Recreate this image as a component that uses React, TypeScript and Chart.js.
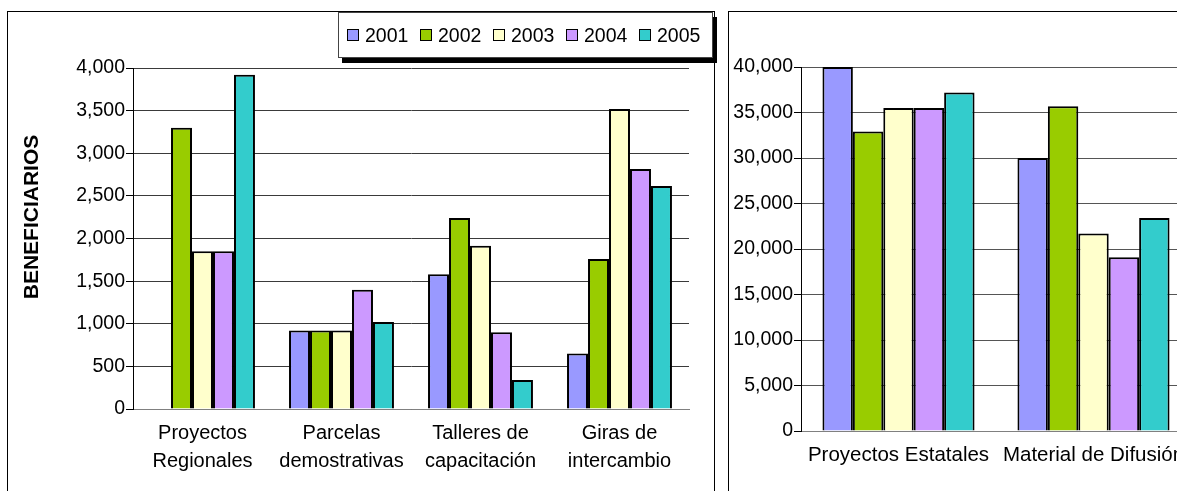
import React, { useEffect, useRef } from 'react';
import { Chart, registerables } from 'chart.js';

Chart.register(...registerables);

const years = ['2001', '2002', '2003', '2004', '2005'];
const colors = ['#9999FF', '#99CC00', '#FFFFCC', '#CC99FF', '#33CCCC'];

const leftCategories = [
  ['Proyectos', 'Regionales'],
  ['Parcelas', 'demostrativas'],
  ['Talleres de', 'capacitación'],
  ['Giras de', 'intercambio'],
];
const left2001 = [0, 920, 1580, 650];
const left2002 = [3300, 920, 2240, 1760];
const left2003 = [1850, 920, 1915, 3520];
const left2004 = [1850, 1400, 900, 2815];
const left2005 = [3920, 1020, 340, 2615];
const leftSeries = [left2001, left2002, left2003, left2004, left2005];
const leftMax = 4000;
const leftStep = 500;

const rightCategories = ['Proyectos Estatales', 'Material de Difusión'];
const right2001 = [40000, 30000];
const right2002 = [32900, 35700];
const right2003 = [35500, 21700];
const right2004 = [35500, 19100];
const right2005 = [37200, 23400];
const rightSeries = [right2001, right2002, right2003, right2004, right2005];
const rightMax = 40000;
const rightStep = 5000;

const yTitle = 'BENEFICIARIOS';

const FONT = '"Liberation Sans", Arial, sans-serif';

const yTitlePlugin = {
  id: 'yTitleLeft',
  afterDraw(chart: any) {
    const ctx = chart.ctx;
    ctx.save();
    ctx.translate(32, 217);
    ctx.rotate(-Math.PI / 2);
    ctx.font = 'bold 21px ' + FONT;
    ctx.fillStyle = '#000';
    ctx.textAlign = 'center';
    ctx.textBaseline = 'middle';
    ctx.fillText(yTitle, 0, 0);
    ctx.restore();
  },
};

function makeConfig(
  labels: any[],
  series: number[][],
  max: number,
  step: number,
  opts: { pad: any; yWidth: number; xHeight: number; catPct: number; gridColor: string; xFont: number },
  plugins: any[]
): any {
  return {
    type: 'bar',
    data: {
      labels,
      datasets: series.map((d, i) => ({
        label: years[i],
        data: d,
        backgroundColor: colors[i],
        borderColor: '#000',
        borderWidth: 2,
        categoryPercentage: opts.catPct,
        barPercentage: 1,
      })),
    },
    options: {
      responsive: false,
      animation: false,
      devicePixelRatio: 1,
      layout: { padding: opts.pad },
      plugins: {
        legend: { display: false },
        tooltip: { enabled: false },
        title: { display: false },
      },
      scales: {
        x: {
          grid: { display: false, drawTicks: false },
          border: { display: true, color: '#808080', width: 1 },
          ticks: {
            color: '#000',
            padding: 10,
            maxRotation: 0,
            autoSkip: false,
            font: { family: FONT, size: opts.xFont, lineHeight: 28 / opts.xFont },
          },
          afterFit(scale: any) {
            scale.height = opts.xHeight;
          },
        },
        y: {
          min: 0,
          max,
          grid: { color: opts.gridColor, lineWidth: 1, drawTicks: true, tickLength: 7, tickColor: '#000' },
          border: { display: true, color: '#000', width: 1 },
          ticks: {
            stepSize: step,
            color: '#000',
            padding: 1,
            font: { family: FONT, size: 19.5 },
            callback: (v: any) => Number(v).toLocaleString('en-US'),
          },
          afterFit(scale: any) {
            scale.width = opts.yWidth;
          },
        },
      },
    },
    plugins,
  };
}

export default function App() {
  const leftRef = useRef<HTMLCanvasElement>(null);
  const rightRef = useRef<HTMLCanvasElement>(null);

  useEffect(() => {
    document.body.style.margin = '0';
    const c1 = new Chart(
      leftRef.current as HTMLCanvasElement,
      makeConfig(
        leftCategories,
        leftSeries,
        leftMax,
        leftStep,
        { pad: { left: 0, top: 68, right: 27, bottom: 0 }, yWidth: 133, xHeight: 82, catPct: 0.755, gridColor: '#3a3a3a', xFont: 20 },
        [yTitlePlugin]
      )
    );
    const c2 = new Chart(
      rightRef.current as HTMLCanvasElement,
      makeConfig(
        rightCategories,
        rightSeries,
        rightMax,
        rightStep,
        { pad: { left: 0, top: 67, right: 17, bottom: 0 }, yWidth: 73, xHeight: 60, catPct: 0.78, gridColor: '#555', xFont: 20.5 },
        []
      )
    );
    return () => {
      c1.destroy();
      c2.destroy();
    };
  }, []);

  return (
    <div
      style={{
        position: 'fixed',
        left: 0,
        top: 0,
        width: 1177,
        height: 491,
        overflow: 'hidden',
        background: '#fff',
        fontFamily: FONT,
      }}
    >
      <div
        style={{
          position: 'absolute',
          left: 7,
          top: 11,
          width: 708,
          height: 520,
          border: '1px solid #000',
          boxSizing: 'border-box',
        }}
      />
      <div
        style={{
          position: 'absolute',
          left: 728,
          top: 11,
          width: 600,
          height: 520,
          border: '1px solid #000',
          boxSizing: 'border-box',
        }}
      />
      <canvas
        ref={leftRef}
        width={716}
        height={491}
        style={{ position: 'absolute', left: 0, top: 0, width: 716, height: 491 }}
      />
      <canvas
        ref={rightRef}
        width={480}
        height={491}
        style={{ position: 'absolute', left: 728, top: 0, width: 480, height: 491 }}
      />
      <div
        style={{
          position: 'absolute',
          left: 338,
          top: 12,
          width: 375,
          height: 46,
          boxSizing: 'border-box',
          border: '1px solid #444',
          background: '#fff',
          boxShadow: '4px 5px 0 #000',
          display: 'flex',
          alignItems: 'center',
          paddingLeft: 8,
          fontSize: 19.5,
          color: '#000',
        }}
      >
        {years.map((y, i) => (
          <div key={y} style={{ display: 'flex', alignItems: 'center', width: 75 }}>
            <span
              style={{
                display: 'inline-block',
                width: 12,
                height: 12,
                boxSizing: 'border-box',
                border: '1px solid #000',
                background: colors[i],
                marginRight: 6,
              }}
            />
            <span style={{ lineHeight: '22px' }}>{y}</span>
          </div>
        ))}
      </div>
    </div>
  );
}
